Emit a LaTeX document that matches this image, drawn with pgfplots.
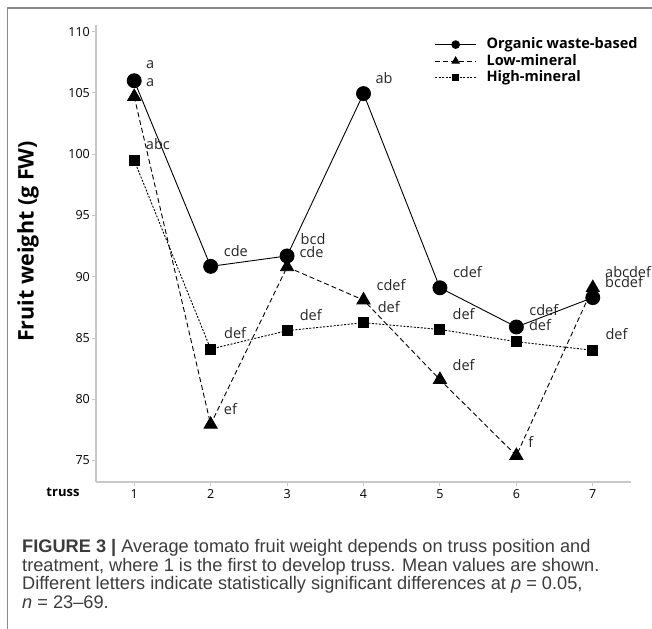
\documentclass[border=0pt]{standalone}
\usepackage{fontspec}
\setmainfont{Open Sans}
\newfontfamily\capfont{Liberation Sans}
\usepackage{pgfplots}
\pgfplotsset{compat=1.18}

\definecolor{axgray}{HTML}{C8C8C8}
\definecolor{framegray}{HTML}{8A8A8A}
\definecolor{captext}{HTML}{3C3C3C}

\begin{document}
\begin{tikzpicture}
\useasboundingbox (0,0) rectangle (652bp,629bp);
% frame of the figure panel
\draw[framegray, line width=1.5bp] (7.5bp,0) -- (7.5bp,621bp) -- (652bp,621bp);

\begin{axis}[
    at={(96bp,147bp)}, anchor=south west,
    scale only axis,
    width=535bp, height=457bp,
    xmin=0.5, xmax=7.5,
    ymin=73.25, ymax=110.55,
    axis lines*=left,
    axis line style={axgray, line width=1.2bp},
    xtick={1,...,7},
    ytick={75,80,...,110},
    tick align=outside,
    major tick length=4bp,
    tick style={axgray, line width=1bp},
    /pgf/number format/assume math mode=true,
    ticklabel style={font=\fontsize{12.5bp}{14bp}\selectfont, text=black},
    yticklabel style={inner sep=2bp},
    xticklabel style={inner sep=3bp},
    clip=false,
    legend style={draw=none, fill=none, at={(axis cs:4.89,109.7)}, anchor=north west,
        font=\bfseries\fontsize{14.5bp}{16bp}\selectfont,
        nodes={inner sep=0pt, text height=11bp, text depth=3bp},
        row sep=2.5bp, column sep=10bp},
    legend cell align=left,
    legend image code/.code={
        \draw[mark repeat=2, mark phase=2, #1, mark options={solid, scale=0.55}]
            plot coordinates {(0bp,0bp) (20.5bp,0bp) (41bp,0bp)};},
]
\addplot[black, line width=0.9bp, mark=*, mark size=7bp] coordinates {
    (1,106.0) (2,90.85) (3,91.7) (4,104.95) (5,89.1) (6,85.9) (7,88.3)};
\addlegendentry{Organic waste-based}
\addplot[black, line width=0.9bp, dash pattern=on 5bp off 3bp, mark=triangle*, mark size=7.5bp,
    mark options={solid}] coordinates {
    (1,104.7) (2,77.95) (3,90.8) (4,88.1) (5,81.6) (6,75.4) (7,89.1)};
\addlegendentry{Low-mineral}
\addplot[black, line width=0.9bp, dash pattern=on 2bp off 1.5bp, mark=square*, mark size=5bp,
    mark options={solid}] coordinates {
    (1,99.5) (2,84.1) (3,85.6) (4,86.25) (5,85.7) (6,84.7) (7,84.0)};
\addlegendentry{High-mineral}

% significance letters
\begin{scope}[every node/.style={font=\fontsize{14.5bp}{16bp}\selectfont, inner sep=0pt, text=black!85}]
\node at (axis cs:1.21,107.28) {a};
\node at (axis cs:1.21,105.84) {a};
\node at (axis cs:1.31,100.81) {abc};
\node at (axis cs:2.33,92.13) {cde};
\node at (axis cs:2.32,85.39) {def};
\node at (axis cs:2.26,79.19) {ef};
\node at (axis cs:3.34,93.06) {bcd};
\node at (axis cs:3.32,92.0) {cde};
\node at (axis cs:3.31,86.89) {def};
\node at (axis cs:4.27,106.2) {ab};
\node at (axis cs:4.36,89.33) {cdef};
\node at (axis cs:4.33,87.56) {def};
\node at (axis cs:5.36,90.42) {cdef};
\node at (axis cs:5.31,86.97) {def};
\node at (axis cs:5.31,82.81) {def};
\node at (axis cs:6.36,87.29) {cdef};
\node at (axis cs:6.31,86.07) {def};
\node at (axis cs:6.19,76.55) {f};
\node[anchor=west] at (axis cs:7.16,90.42) {abcdef};
\node[anchor=west] at (axis cs:7.16,89.6) {bcdef};
\node at (axis cs:7.31,85.31) {def};
\end{scope}
\end{axis}

% axis titles
\node[rotate=90, font=\bfseries\fontsize{21.5bp}{24bp}\selectfont] at (28bp,387.5bp) {Fruit weight (g FW)};
\node[font=\bfseries\fontsize{13bp}{15bp}\selectfont] at (63bp,136.3bp) {truss};

% caption
\node[anchor=north west, inner sep=0pt, align=left, text=captext,
      font=\capfont\fontsize{18.2bp}{18.7bp}\selectfont] at (22bp,90bp)
{{\bfseries FIGURE 3 |} Average tomato fruit weight depends on truss position and\\
treatment, where 1 is the first to develop truss. Mean values are shown.\\
Different letters indicate statistically significant differences at \textit{p} = 0.05,\\
\textit{n} = 23–69.};
\end{tikzpicture}
\end{document}
